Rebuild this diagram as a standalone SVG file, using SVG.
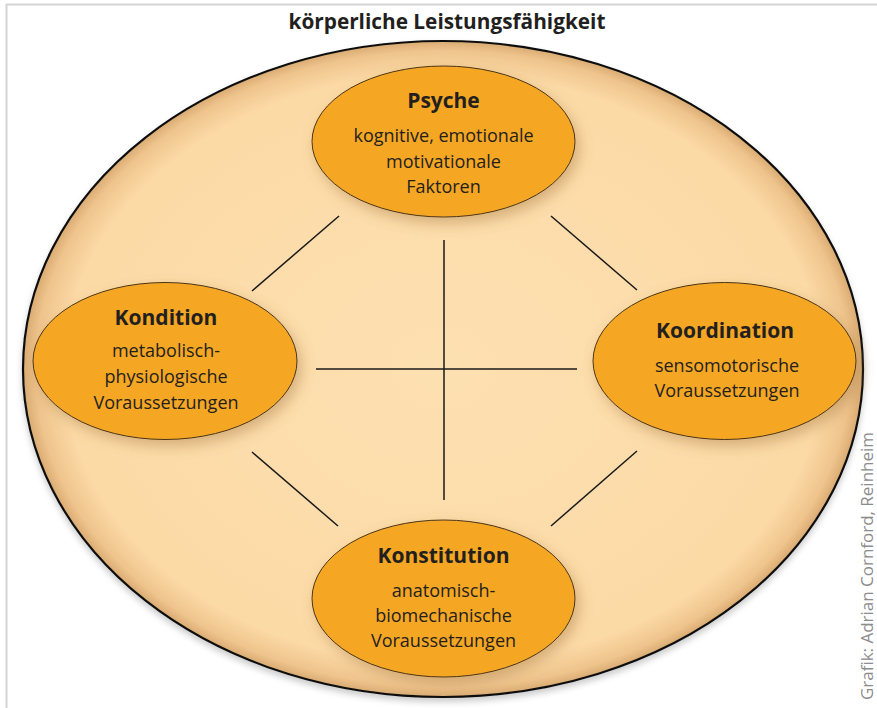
<svg xmlns="http://www.w3.org/2000/svg" width="877" height="708" viewBox="0 0 877 708">
  <defs>
    <radialGradient id="bigFill" cx="50%" cy="50%" r="50%">
      <stop offset="0%" stop-color="#fde0b1"/>
      <stop offset="90%" stop-color="#fcdaa6"/>
      <stop offset="97%" stop-color="#efc48d"/>
      <stop offset="100%" stop-color="#d9ab72"/>
    </radialGradient>
    <filter id="shadow" x="-20%" y="-20%" width="140%" height="150%">
      <feGaussianBlur in="SourceAlpha" stdDeviation="7"/>
      <feOffset dx="4" dy="6" result="b"/>
      <feFlood flood-color="#9a6a30" flood-opacity="0.4"/>
      <feComposite in2="b" operator="in"/>
      <feMerge><feMergeNode/><feMergeNode in="SourceGraphic"/></feMerge>
    </filter>
    <filter id="bigShadow" x="-5%" y="-5%" width="110%" height="112%">
      <feGaussianBlur in="SourceAlpha" stdDeviation="3"/>
      <feOffset dx="0" dy="4" result="b"/>
      <feFlood flood-color="#000" flood-opacity="0.2"/>
      <feComposite in2="b" operator="in"/>
      <feMerge><feMergeNode/><feMergeNode in="SourceGraphic"/></feMerge>
    </filter>
  </defs>
  <style>
    .frame { stroke: #d4d4d4; stroke-width: 2; fill: none; }
    .big { fill: url(#bigFill); stroke: #111; stroke-width: 2.2; }
    .node { fill: #f5a623; stroke: #4a3418; stroke-width: 1; }
    .conn line { stroke: #1a1a1a; stroke-width: 1.5; }
    text { font-family: "Open Sans", "Liberation Sans", sans-serif; fill: #231f20; text-anchor: middle; }
    .title { font-size: 22px; font-weight: bold; }
    .head { font-size: 21px; font-weight: bold; }
    .body { font-size: 18px; }
    .credit { font-size: 16px; fill: #8c8c8c; text-anchor: start; }
  </style>
  <rect width="877" height="708" fill="#ffffff"/>
  <path class="frame" d="M6.5 708 V4.5 H877"/>
  <text class="title" x="447" y="29" textLength="317" lengthAdjust="spacingAndGlyphs">körperliche Leistungsfähigkeit</text>
  <ellipse class="big" cx="443" cy="369" rx="420" ry="328" filter="url(#bigShadow)"/>
  <g class="conn">
    <line x1="444" y1="240" x2="444" y2="500"/>
    <line x1="316" y1="369" x2="577" y2="369"/>
    <line x1="252" y1="291" x2="339" y2="216"/>
    <line x1="551" y1="216" x2="637" y2="290"/>
    <line x1="252" y1="452" x2="338" y2="526"/>
    <line x1="551" y1="526" x2="637" y2="451"/>
  </g>
  <g id="psyche">
    <ellipse class="node" cx="443.5" cy="141.5" rx="131.5" ry="75.5" filter="url(#shadow)"/>
    <text class="head" x="443.5" y="108">Psyche</text>
    <text class="body" x="443.5" y="142">kognitive, emotionale</text>
    <text class="body" x="443.5" y="168">motivationale</text>
    <text class="body" x="443.5" y="193">Faktoren</text>
  </g>
  <g id="kondition">
    <ellipse class="node" cx="165" cy="361" rx="132" ry="78.5" filter="url(#shadow)"/>
    <text class="head" x="166" y="325">Kondition</text>
    <text class="body" x="166" y="357">metabolisch-</text>
    <text class="body" x="166" y="383">physiologische</text>
    <text class="body" x="166" y="409">Voraussetzungen</text>
  </g>
  <g id="koordination">
    <ellipse class="node" cx="724.5" cy="361" rx="131.5" ry="78.5" filter="url(#shadow)"/>
    <text class="head" x="725" y="338">Koordination</text>
    <text class="body" x="727" y="372">sensomotorische</text>
    <text class="body" x="727" y="397">Voraussetzungen</text>
  </g>
  <g id="konstitution">
    <ellipse class="node" cx="443.5" cy="598.5" rx="131.5" ry="78.5" filter="url(#shadow)"/>
    <text class="head" x="443.5" y="563">Konstitution</text>
    <text class="body" x="443.5" y="597">anatomisch-</text>
    <text class="body" x="443.5" y="622">biomechanische</text>
    <text class="body" x="443.5" y="647">Voraussetzungen</text>
  </g>
  <text class="credit" transform="translate(873 700) rotate(-90)" textLength="268" lengthAdjust="spacingAndGlyphs">Grafik: Adrian Cornford, Reinheim</text>
</svg>
